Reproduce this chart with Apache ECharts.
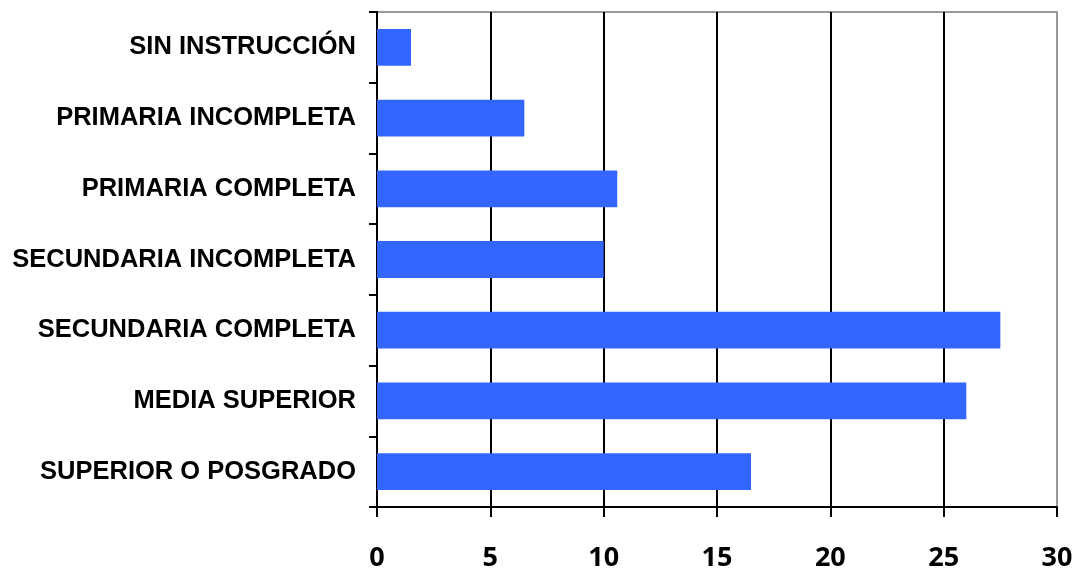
<!DOCTYPE html>
<html><head><meta charset="utf-8">
<script src="https://cdn.jsdelivr.net/npm/echarts@6/dist/echarts.min.js"></script>
<style>html,body{margin:0;padding:0;background:#fff}#c{width:1088px;height:572px}</style>
</head><body><div id="c"></div>
<script>
const categories = ["SIN INSTRUCCIÓN","PRIMARIA INCOMPLETA","PRIMARIA COMPLETA","SECUNDARIA INCOMPLETA","SECUNDARIA COMPLETA","MEDIA SUPERIOR","SUPERIOR O POSGRADO"];
const values = [1.5, 6.5, 10.6, 10.0, 27.5, 26.0, 16.5];
const xTicks = [0, 5, 10, 15, 20, 25, 30];

const chart = echarts.init(document.getElementById('c'), null, {renderer:'canvas'});
chart.setOption({
  animation:false,
  grid:{left:377,right:31,top:12,bottom:63,show:true,borderColor:'#9a9a9a',borderWidth:2,backgroundColor:'transparent'},
  xAxis:{type:'value',min:xTicks[0],max:xTicks[xTicks.length-1],interval:5,
    axisLine:{show:true,lineStyle:{color:'#000',width:2}},
    axisTick:{show:true,length:10,lineStyle:{color:'#000',width:2}},
    axisLabel:{color:'#000',fontFamily:'Open Sans',fontWeight:'bold',fontSize:27,margin:38},
    splitLine:{show:true,showMaxLine:false,lineStyle:{color:'#000',width:2}}},
  yAxis:{type:'category',data:categories,inverse:true,
    axisLine:{show:true,lineStyle:{color:'#000',width:2}},
    axisTick:{show:true,length:8,lineStyle:{color:'#000',width:2}},
    axisLabel:{color:'#000',fontFamily:'Liberation Sans, Arial, sans-serif',fontWeight:'bold',fontSize:25.5,margin:21}},
  series:[{type:'bar',data:values,barCategoryGap:'48%',itemStyle:{color:'#3366ff'}}]
});
</script></body></html>
